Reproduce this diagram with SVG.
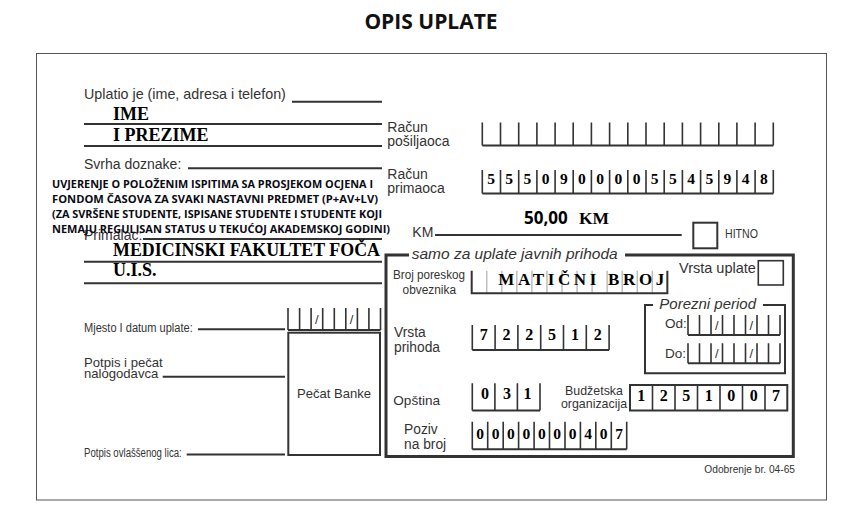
<svg xmlns="http://www.w3.org/2000/svg" width="863" height="507" viewBox="0 0 863 507">
<style>
.lbl{font-family:"Liberation Sans",Arial,sans-serif;fill:#333;}
.it{font-family:"Liberation Sans",Arial,sans-serif;font-style:italic;fill:#333;}
.val{font-family:"Liberation Serif","Times New Roman",serif;font-weight:bold;fill:#000;}
.dig{font-family:"Liberation Serif","Times New Roman",serif;font-weight:bold;fill:#000;text-anchor:middle;}
.ln{stroke:#333;stroke-width:2;fill:none;}
.tk{stroke:#333;stroke-width:1.6;fill:none;}
.gk{stroke:#bbb;stroke-width:1.4;fill:none;}
.box{stroke:#333;stroke-width:2;fill:#fff;}
.up{font-family:"Open Sans","DejaVu Sans",sans-serif;font-weight:bold;fill:#0a0a14;font-size:10.3px;}
.sl{font-family:"Liberation Sans",Arial,sans-serif;fill:#333;font-size:13px;text-anchor:middle;}
</style>
<rect width="863" height="507" fill="#fff"/>
<text x="431" y="29" text-anchor="middle" font-family="'Open Sans','DejaVu Sans',sans-serif" font-weight="bold" font-size="21" fill="#111">OPIS UPLATE</text>
<rect x="36.5" y="53.5" width="790" height="446.5" fill="none" stroke="#555" stroke-width="1"/>

<g id="uplatilac">
<text class="lbl" x="84" y="99" font-size="14.3">Uplatio je (ime, adresa i telefon)</text>
<path class="ln" d="M292 101.7H382M84 124H382M84 146H382"/>
<text class="val" x="113" y="120" font-size="18">IME</text>
<text class="val" x="113" y="140.7" font-size="18">I PREZIME</text>
</g>

<g id="svrha">
<text class="lbl" x="84" y="169" font-size="14">Svrha doznake:</text>
<path class="ln" d="M188 168.3H382"/>
</g>

<g id="primalac">
<text class="lbl" x="84" y="240" font-size="14">Primalac:</text>
<path class="ln" d="M143 239H382M84 261.7H382M84 283.3H382"/>
<text class="val" x="113" y="256" font-size="18" textLength="267" lengthAdjust="spacingAndGlyphs">MEDICINSKI FAKULTET FOČA</text>
<text class="val" x="113" y="276" font-size="18">U.I.S.</text>
</g>

<g id="svrha-tekst">
<text class="up" x="52" y="187.7" textLength="321" lengthAdjust="spacingAndGlyphs">UVJERENJE O POLOŽENIM ISPITIMA SA PROSJEKOM OCJENA I</text>
<text class="up" x="52" y="203.3" textLength="326" lengthAdjust="spacingAndGlyphs">FONDOM ČASOVA ZA SVAKI NASTAVNI PREDMET (P+AV+LV)</text>
<text class="up" x="52" y="218.3" textLength="330" lengthAdjust="spacingAndGlyphs">(ZA SVRŠENE STUDENTE, ISPISANE STUDENTE I STUDENTE KOJI</text>
<text class="up" x="52" y="233.3" textLength="338" lengthAdjust="spacingAndGlyphs">NEMAJU REGULISAN STATUS U TEKUĆOJ AKADEMSKOJ GODINI)</text>
</g>

<g id="mjesto-datum">
<text class="lbl" x="84" y="331.7" font-size="12.5" textLength="108.7" lengthAdjust="spacingAndGlyphs">Mjesto I datum uplate:</text>
<path class="ln" d="M198 329.3H285"/>
<path class="ln" d="M288 330H380.5"/>
<path class="tk" d="M288 308V330M299.6 308V330M311.1 308V330M322.7 308V330M334.3 308V330M345.8 308V330M357.4 308V330M368.9 308V330M380.5 308V330"/>
<text class="sl" x="316.9" y="324">/</text>
<text class="sl" x="351.6" y="324">/</text>
</g>

<g id="potpis-nalogodavca">
<text class="lbl" x="84" y="367.3" font-size="13" textLength="78.7" lengthAdjust="spacingAndGlyphs">Potpis i pečat</text>
<text class="lbl" x="84" y="378.3" font-size="13" textLength="74.3" lengthAdjust="spacingAndGlyphs">nalogodavca</text>
<path class="ln" d="M162.7 376.7H285"/>
</g>

<g id="potpis-ovlastenog">
<text class="lbl" x="84" y="456.5" font-size="12.5" textLength="97.7" lengthAdjust="spacingAndGlyphs">Potpis ovlaššenog lica:</text>
<path class="ln" d="M186.7 454.5H285"/>
</g>

<g id="pecat-banke">
<rect class="box" x="288.3" y="332.7" width="91.7" height="122.3"/>
<text class="lbl" x="334" y="398" font-size="13.5" text-anchor="middle" textLength="74" lengthAdjust="spacingAndGlyphs">Pečat Banke</text>
</g>

<g id="racun-posiljaoca">
<text class="lbl" x="387.3" y="132.3" font-size="14">Račun</text>
<text class="lbl" x="387.3" y="145.7" font-size="14">pošiljaoca</text>
<path class="ln" d="M482.3 145.5H773.3"/>
<path class="tk" d="M482.3 122.5V145.5M500.5 122.5V145.5M518.7 122.5V145.5M536.9 122.5V145.5M555.1 122.5V145.5M573.2 122.5V145.5M591.4 122.5V145.5M609.6 122.5V145.5M627.8 122.5V145.5M646 122.5V145.5M664.2 122.5V145.5M682.4 122.5V145.5M700.6 122.5V145.5M718.8 122.5V145.5M736.9 122.5V145.5M755.1 122.5V145.5M773.3 122.5V145.5"/>
</g>

<g id="racun-primaoca">
<text class="lbl" x="387.3" y="179.3" font-size="14">Račun</text>
<text class="lbl" x="387.3" y="192.7" font-size="14">primaoca</text>
<path class="ln" d="M482.3 193.5H773.3"/>
<path class="tk" d="M482.3 170V193.5M500.5 170V193.5M518.7 170V193.5M536.9 170V193.5M555.1 170V193.5M573.2 170V193.5M591.4 170V193.5M609.6 170V193.5M627.8 170V193.5M646 170V193.5M664.2 170V193.5M682.4 170V193.5M700.6 170V193.5M718.8 170V193.5M736.9 170V193.5M755.1 170V193.5M773.3 170V193.5"/>
<text class="dig" font-size="15.5" y="184" x="491 509.2 527.4 545.6 563.8 581.9 600.1 618.3 636.5 654.7 672.9 691.1 709.3 727.4 745.6 763.8">5550900005545948</text>
</g>

<g id="iznos">
<text x="524" y="224" font-family="'Open Sans','DejaVu Sans',sans-serif" font-weight="bold" font-size="17" fill="#000">50,00</text>
<text class="val" x="579" y="224" font-size="17.5">KM</text>
<text class="lbl" x="412.3" y="236.5" font-size="14">KM</text>
<path class="ln" d="M435 235H681.7"/>
</g>

<g id="hitno">
<rect class="box" x="693.3" y="222.7" width="24" height="25.6"/>
<text class="lbl" x="725" y="238.3" font-size="12.5" textLength="33" lengthAdjust="spacingAndGlyphs">HITNO</text>
</g>

<g id="javni-prihodi">
<path d="M409 255H386V456.5H793.3V255H625" fill="none" stroke="#333" stroke-width="3"/>
<text class="it" x="411.7" y="259" font-size="15.5">samo za uplate javnih prihoda</text>
</g>

<g id="broj-poreskog">
<text class="lbl" x="429" y="279" font-size="12.5" text-anchor="middle" textLength="72" lengthAdjust="spacingAndGlyphs">Broj poreskog</text>
<text class="lbl" x="429.3" y="293.8" font-size="12.5" text-anchor="middle" textLength="53.5" lengthAdjust="spacingAndGlyphs">obveznika</text>
<path class="gk" d="M486.75 270.7V293.3M501.8 270.7V293.3M516.85 270.7V293.3M531.9 270.7V293.3M546.95 270.7V293.3M562 270.7V293.3M577.05 270.7V293.3M592.1 270.7V293.3M607.15 270.7V293.3M622.2 270.7V293.3M637.25 270.7V293.3M652.3 270.7V293.3"/>
<path class="ln" d="M471.7 270.7V293.3H667.35V270.7"/>
<text class="val" x="498.3" y="285" font-size="17" fill="#14142e" textLength="166" lengthAdjust="spacing">MATIČNI BROJ</text>
</g>

<g id="vrsta-uplate">
<text class="lbl" x="679" y="273.3" font-size="14.5">Vrsta uplate</text>
<rect x="758.3" y="260.7" width="25" height="24.3" fill="#fff" stroke="#333" stroke-width="1.6"/>
</g>

<g id="porezni-period">
<path d="M653 305H645V373.3H785V305H763" fill="none" stroke="#333" stroke-width="2"/>
<text class="it" x="659.3" y="309.3" font-size="15">Porezni period</text>
<text class="lbl" x="665" y="328.3" font-size="13.5">Od:</text>
<path class="ln" d="M688 335H780"/>
<path class="tk" d="M688 315V335M699.5 315V335M711 315V335M722.5 315V335M734 315V335M745.5 315V335M757 315V335M768.5 315V335M780 315V335"/>
<text class="sl" x="716.75" y="330">/</text>
<text class="sl" x="751.25" y="330">/</text>
<text class="lbl" x="665" y="358.3" font-size="13.5">Do:</text>
<path class="ln" d="M688 363.3H780"/>
<path class="tk" d="M688 343.3V363.3M699.5 343.3V363.3M711 343.3V363.3M722.5 343.3V363.3M734 343.3V363.3M745.5 343.3V363.3M757 343.3V363.3M768.5 343.3V363.3M780 343.3V363.3"/>
<text class="sl" x="716.75" y="358.3">/</text>
<text class="sl" x="751.25" y="358.3">/</text>
</g>

<g id="vrsta-prihoda">
<text class="lbl" x="394" y="336.7" font-size="13.8">Vrsta</text>
<text class="lbl" x="394" y="351.7" font-size="13.8">prihoda</text>
<path class="ln" d="M472.3 350H609.1"/>
<path class="tk" d="M472.3 325V350M495.1 325V350M517.9 325V350M540.7 325V350M563.5 325V350M586.3 325V350M609.1 325V350"/>
<text class="dig" font-size="16" y="339.5" x="483.7 506.5 529.3 552.1 574.9 597.7">722512</text>
</g>

<g id="opstina">
<text class="lbl" x="393.3" y="405" font-size="13.6">Opština</text>
<path class="ln" d="M472.3 410.5H540"/>
<path class="tk" d="M472.3 383.3V410.5M494.9 383.3V410.5M517.4 383.3V410.5M540 383.3V410.5"/>
<text class="dig" font-size="16" y="398.5" x="485 507 527.5">031</text>
</g>

<g id="budzetska-organizacija">
<text class="lbl" x="594" y="395" font-size="12.4" text-anchor="middle">Budžetska</text>
<text class="lbl" x="594" y="408.3" font-size="12.4" text-anchor="middle">organizacija</text>
<rect x="630" y="385" width="157.3" height="25.5" fill="#fff" stroke="#333" stroke-width="2"/>
<path class="tk" d="M652.5 385V410.5M675 385V410.5M697.5 385V410.5M720 385V410.5M742.5 385V410.5M765 385V410.5"/>
<text class="dig" font-size="16" y="400.7" x="641.3 663.8 686.3 708.8 731.3 753.8 776">1251007</text>
</g>

<g id="poziv-na-broj">
<text class="lbl" x="404" y="434" font-size="13.8">Poziv</text>
<text class="lbl" x="404" y="449" font-size="13.8">na broj</text>
<path class="ln" d="M472.3 449.3H626.7"/>
<path class="tk" d="M472.3 421.7V449.3M487.7 421.7V449.3M503.2 421.7V449.3M518.6 421.7V449.3M534.1 421.7V449.3M549.5 421.7V449.3M565 421.7V449.3M580.4 421.7V449.3M595.8 421.7V449.3M611.3 421.7V449.3M626.7 421.7V449.3"/>
<text class="dig" font-size="15.5" y="438.5" x="480 495.5 510.9 526.4 541.8 557.2 572.7 588.1 603.6 619">0000000407</text>
</g>

<text class="lbl" x="704.3" y="473.3" font-size="11" textLength="90.7" lengthAdjust="spacingAndGlyphs">Odobrenje br. 04-65</text>
</svg>
